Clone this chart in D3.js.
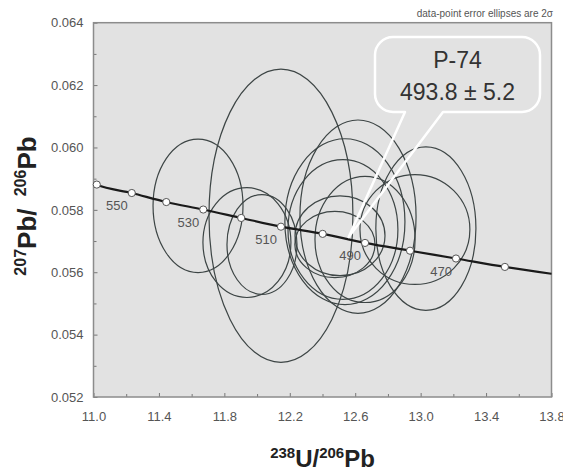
<!DOCTYPE html>
<html>
<head>
<meta charset="utf-8">
<script src="https://cdn.jsdelivr.net/npm/d3@7"></script>
<style>
    body { margin: 0; background: #fff; }
    svg { display: block; font-family: "Liberation Sans", Arial, sans-serif; }
</style>
</head>
<body>
<svg id="chart" width="563" height="472"></svg>
<script>
// concordia points (age in Ma, 238U/206Pb, 207Pb/206Pb)
const ages = [560, 550, 540, 530, 520, 510, 500, 490, 480, 470, 460];
const concX = [11.020, 11.234, 11.445, 11.671, 11.903, 12.146, 12.401, 12.660, 12.935, 13.216, 13.515];
const concY = [0.05881, 0.05854, 0.05825, 0.05801, 0.05774, 0.05746, 0.05723, 0.05694, 0.05669, 0.05644, 0.05617];
const labelAges = [550, 530, 510, 490, 470];
// where the concordia curve meets the frame
const lineEndX = [11.0, 13.8];
const lineEndY = [0.05886, 0.05595];

// error ellipses (2 sigma): centre and half-axes
const ellX  = [11.639, 12.146, 11.938, 12.030, 12.617, 12.537, 12.525, 12.660, 12.507, 12.476, 13.032, 12.965];
const ellY  = [0.05813, 0.05781, 0.05695, 0.05689, 0.05778, 0.05762, 0.05737, 0.05705, 0.05717, 0.05689, 0.05740, 0.05737];
const ellRx = [0.275, 0.440, 0.269, 0.214, 0.355, 0.367, 0.336, 0.306, 0.275, 0.245, 0.306, 0.336];
const ellRy = [0.00214, 0.00470, 0.00176, 0.00160, 0.00310, 0.00266, 0.00224, 0.00202, 0.00128, 0.00106, 0.00262, 0.00176];

const xTicks = [11.0, 11.4, 11.8, 12.2, 12.6, 13.0, 13.4, 13.8];
const xMinor = [11.2, 11.6, 12.0, 12.4, 12.8, 13.2, 13.6];
const yTicks = [0.052, 0.054, 0.056, 0.058, 0.060, 0.062, 0.064];
const yMinor = [0.053, 0.055, 0.057, 0.059, 0.061, 0.063];

// result callout
const sampleName = "P-74";
const sampleAge = "493.8 ± 5.2";
const tipX = 12.56;
const tipY = 0.05713;

const svg = d3.select("#chart");

const pLeft = 93.5, pRight = 551.5, pTop = 22.7, pBottom = 397;
const x = d3.scaleLinear().domain([11.0, 13.8]).range([pLeft, pRight]);
const y = d3.scaleLinear().domain([0.052, 0.064]).range([pBottom, pTop]);

// plot background
svg.append("rect")
    .attr("x", pLeft).attr("y", pTop)
    .attr("width", pRight - pLeft).attr("height", pBottom - pTop)
    .attr("fill", "#e2e2e2");

// axes, ticks pointing inwards
svg.append("g")
    .attr("transform", `translate(0 ${pBottom})`)
    .call(d3.axisBottom(x).tickValues(xTicks).tickSizeInner(-4).tickSizeOuter(0).tickPadding(15)
        .tickFormat(d3.format(".1f")))
    .call(g => g.select(".domain").remove())
    .call(g => g.selectAll("line").attr("stroke", "#777"))
    .call(g => g.selectAll("text").attr("fill", "#555").style("font-size", "13px")
        .style("font-family", "Liberation Sans, Arial, sans-serif"));

svg.append("g")
    .attr("transform", `translate(0 ${pBottom})`)
    .call(d3.axisBottom(x).tickValues(xMinor).tickSizeInner(-3).tickSizeOuter(0).tickFormat(""))
    .call(g => g.select(".domain").remove())
    .call(g => g.selectAll("line").attr("stroke", "#777"));

svg.append("g")
    .attr("transform", `translate(${pLeft} 0)`)
    .call(d3.axisLeft(y).tickValues(yTicks).tickSizeInner(-4).tickSizeOuter(0).tickPadding(10)
        .tickFormat(d3.format(".3f")))
    .call(g => g.select(".domain").remove())
    .call(g => g.selectAll("line").attr("stroke", "#777"))
    .call(g => g.selectAll("text").attr("fill", "#555").style("font-size", "13px")
        .style("font-family", "Liberation Sans, Arial, sans-serif"));

svg.append("g")
    .attr("transform", `translate(${pLeft} 0)`)
    .call(d3.axisLeft(y).tickValues(yMinor).tickSizeInner(-3).tickSizeOuter(0).tickFormat(""))
    .call(g => g.select(".domain").remove())
    .call(g => g.selectAll("line").attr("stroke", "#777"));

// frame
svg.append("rect")
    .attr("x", pLeft).attr("y", pTop)
    .attr("width", pRight - pLeft).attr("height", pBottom - pTop)
    .attr("fill", "none")
    .attr("stroke", "#8c8c8c")
    .attr("stroke-width", 1.5);

// error ellipses
svg.append("g")
    .selectAll("ellipse")
    .data(ellX.map((d, i) => ({ cx: d, cy: ellY[i], rx: ellRx[i], ry: ellRy[i] })))
    .enter().append("ellipse")
    .attr("cx", d => x(d.cx))
    .attr("cy", d => y(d.cy))
    .attr("rx", d => x(d.cx + d.rx) - x(d.cx))
    .attr("ry", d => y(d.cy - d.ry) - y(d.cy))
    .attr("fill", "none")
    .attr("stroke", "#3d4545")
    .attr("stroke-width", 1.2);

// concordia curve
const linePts = [[lineEndX[0], lineEndY[0]]]
    .concat(concX.map((d, i) => [d, concY[i]]))
    .concat([[lineEndX[1], lineEndY[1]]]);

svg.append("path")
    .datum(linePts)
    .attr("d", d3.line().x(d => x(d[0])).y(d => y(d[1])).curve(d3.curveMonotoneX))
    .attr("fill", "none")
    .attr("stroke", "#1a1a1a")
    .attr("stroke-width", 2.2);

const concPts = ages.map((a, i) => ({ age: a, x: concX[i], y: concY[i] }));

svg.append("g")
    .selectAll("circle")
    .data(concPts)
    .enter().append("circle")
    .attr("cx", d => x(d.x))
    .attr("cy", d => y(d.y))
    .attr("r", 3.6)
    .attr("fill", "#fff")
    .attr("stroke", "#555")
    .attr("stroke-width", 1);

svg.append("g")
    .selectAll("text")
    .data(concPts.filter(d => labelAges.includes(d.age)))
    .enter().append("text")
    .attr("x", d => x(d.x) - 4)
    .attr("y", d => y(d.y) + 17)
    .attr("text-anchor", "end")
    .attr("fill", "#555")
    .style("font-size", "13px")
    .text(d => d.age);

// callout bubble
const bx0 = 375, bx1 = 540, by0 = 37, by1 = 112, r = 18;
const gapL = 405, gapR = 443;
const tx = x(tipX), ty = y(tipY);
const bubble = d3.path();
bubble.moveTo(gapL, by1);
bubble.lineTo(tx, ty);
bubble.lineTo(gapR, by1);
bubble.lineTo(bx1 - r, by1);
bubble.arcTo(bx1, by1, bx1, by1 - r, r);
bubble.lineTo(bx1, by0 + r);
bubble.arcTo(bx1, by0, bx1 - r, by0, r);
bubble.lineTo(bx0 + r, by0);
bubble.arcTo(bx0, by0, bx0, by0 + r, r);
bubble.lineTo(bx0, by1 - r);
bubble.arcTo(bx0, by1, bx0 + r, by1, r);
bubble.closePath();

svg.append("path")
    .attr("d", bubble.toString())
    .attr("fill", "none")
    .attr("stroke", "#fff")
    .attr("stroke-width", 2.5)
    .attr("stroke-linejoin", "round");

svg.append("text")
    .attr("x", (bx0 + bx1) / 2).attr("y", 68)
    .attr("text-anchor", "middle")
    .attr("fill", "#333")
    .style("font-size", "23px")
    .text(sampleName);

svg.append("text")
    .attr("x", (bx0 + bx1) / 2).attr("y", 100)
    .attr("text-anchor", "middle")
    .attr("fill", "#333")
    .style("font-size", "23px")
    .text(sampleAge);

// note above the frame
svg.append("text")
    .attr("x", 553).attr("y", 17)
    .attr("text-anchor", "end")
    .attr("fill", "#555")
    .style("font-size", "10px")
    .text("data-point error ellipses are 2σ");

// axis titles with superscript mass numbers
const xTitle = svg.append("text")
    .attr("x", (pLeft + pRight) / 2).attr("y", 467)
    .attr("text-anchor", "middle")
    .attr("fill", "#222")
    .style("font-weight", "bold");
xTitle.append("tspan").attr("dy", -9).style("font-size", "15px").text("238");
xTitle.append("tspan").attr("dy", 9).style("font-size", "24px").text("U/");
xTitle.append("tspan").attr("dy", -9).style("font-size", "15px").text("206");
xTitle.append("tspan").attr("dy", 9).style("font-size", "24px").text("Pb");

const yTitle = svg.append("text")
    .attr("transform", "translate(36 206) rotate(-90)")
    .attr("text-anchor", "middle")
    .attr("fill", "#222")
    .style("font-weight", "bold");
yTitle.append("tspan").attr("dy", -10).style("font-size", "16px").text("207");
yTitle.append("tspan").attr("dy", 10).style("font-size", "26px").text("Pb/ ");
yTitle.append("tspan").attr("dy", -10).attr("dx", 5).style("font-size", "16px").text("206");
yTitle.append("tspan").attr("dy", 10).style("font-size", "26px").text("Pb");
</script>
</body>
</html>
